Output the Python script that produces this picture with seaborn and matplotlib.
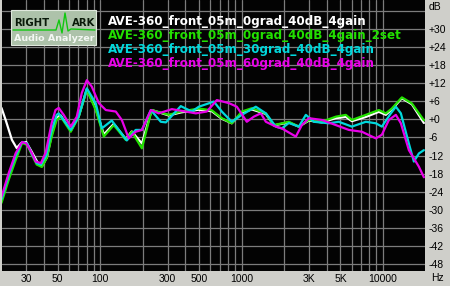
import matplotlib
matplotlib.use("Agg")
import matplotlib.pyplot as plt
from matplotlib.patches import Rectangle
from matplotlib.lines import Line2D
from matplotlib.ticker import NullLocator
import numpy as np
import pandas as pd
import seaborn as sns

# ---------------- data ----------------
series_names = [
    "AVE-360_front_05m_0grad_40dB_4gain",
    "AVE-360_front_05m_0grad_40dB_4gain_2set",
    "AVE-360_front_05m_30grad_40dB_4gain",
    "AVE-360_front_05m_60grad_40dB_4gain",
]
series_colors = ["#ffffff", "#22e000", "#00d8dc", "#e800e8"]

white_freq = [20, 21.4, 23.7, 25.6, 27.6, 29.9, 32.8, 36.7, 39, 42, 45.3, 49.1, 52.5, 61.8, 70.4,
              80.3, 92.9, 105.9, 124.6, 151.5, 167, 197, 231, 305, 371, 498, 615, 724, 852, 1003,
              1181, 1484, 1690, 2158, 2540, 2990, 3695, 4643, 5464, 6025, 7569, 9355, 10485,
              11560, 13610, 16020, 19480]
white_db = [3.8, -0.2, -6.8, -9.5, -7.8, -7.5, -10.8, -15, -15.3, -12.5, -5, 0.5, 1.3, -3.8, 1,
            10, 3.5, -5, -1.5, -6.5, -4, -8, 3.1, 1.3, 2.3, 3.2, 2.7, 0.2, -1.3, 2.2,
            3.3, 1.8, -2, -1, -2.4, -0.4, -1, 0.4, 0.8, -0.6, 0.8, 2.5, 1.5,
            3.3, 7, 5, -1.2]

green_freq = [20, 22.5, 25.2, 28, 30.4, 32.8, 35.5, 38.6, 41.8, 45.3, 49.1, 52.5, 61.8, 70.4,
              80.3, 92.9, 105.9, 124.6, 151.5, 167, 197, 231, 305, 371, 498, 615, 724, 852, 1003,
              1181, 1484, 1690, 2158, 2540, 2990, 3695, 4643, 5464, 6025, 7569, 9355, 10485,
              11560, 13610, 16020, 19480]
green_db = [-27.7, -20, -13.5, -7.8, -8.5, -11.8, -15, -15.8, -12.8, -5.8, -0.2, 0.9, -4.1, 0.9,
            9.8, 3.1, -5.7, -1.9, -6.8, -4.1, -9.6, 3.1, 1.5, 2.6, 3.6, 3, 0.4, -1.3, 2.6,
            3.7, 2, -1.9, -0.8, -2.4, -0.2, -0.8, 0.9, 1.5, -0.2, 1.5, 3.1, 2,
            3.6, 7.3, 5.3, -0.3]

cyan_freq = [20, 22.5, 25.2, 28, 30.4, 32.8, 35.5, 38, 41.5, 45.3, 49.1, 50.8, 61.8, 70.4,
             80.3, 92.9, 102.5, 120.6, 154, 178, 197, 228, 268, 291, 371, 444, 498, 636, 724,
             852, 1003, 1260, 1484, 1746, 1926, 2158, 2540, 2847, 3243, 4141, 4875, 6025,
             7569, 8910, 9822, 11375, 12340, 13390, 15250, 16550, 17960, 19480]
cyan_db = [-26.5, -18.5, -12, -7.5, -8, -11.5, -14.5, -15, -12, -3.5, 1.5, 2, -3.5, 1,
           10.3, 5.3, -3, -0.4, -7, -3.5, -3.5, 3.1, -0.8, -1, 4.4, 2.6, 4.2, 5.9, 2.6,
           -0.8, 1.5, 4.2, 2, -2.4, -3, -1.2, -2.4, 1.5, -0.8, -1.3, -0.8, -2.4,
           -0.8, -1.3, -2.4, 2, 4.2, 2, -8, -14, -11.3, -10.2]

magenta_freq = [20, 22.5, 25.2, 28, 30, 32.8, 34.9, 38, 41.1, 45.3, 48.2, 50.8, 55.1, 61.8, 68.2,
                74, 80.3, 87, 97.6, 109.4, 128.7, 142, 159, 178, 197, 228, 259, 321, 474, 567,
                668, 812, 925, 1088, 1220, 1368, 1484, 1746, 1926, 2419, 2667, 2990, 3695,
                4643, 5739, 7092, 8910, 9822, 11010, 12340, 13390, 15250, 17960, 19480]
magenta_db = [-25.7, -17.8, -11.2, -7.5, -8, -11.2, -14, -14.5, -11, -1.2, 3.1, 3.8, 1.5, -2.4, 0.9,
              8.8, 13, 10.9, 5.4, 3.1, 2.6, -0.2, -6.3, -4.1, -3.5, 3.1, 2, 3.4, 2, 2.6,
              6.4, 5.4, 4.2, -0.8, 0.9, 2, -0.8, -2.4, -3, -5.7, -1.9, 0.4, -0.2,
              -1.9, -3.5, -4.1, -6.3, -5.1, -0.2, 1.5, -1.3, -10.2, -15.7, -19.2]

x_grid = [30, 40, 50, 60, 70, 80, 90, 100, 200, 300, 400, 500, 600, 700, 800, 900,
          1000, 2000, 3000, 4000, 5000, 6000, 7000, 8000, 9000, 10000]
x_tick_text = {30: "30", 50: "50", 100: "100", 300: "300", 500: "500", 1000: "1000",
               3000: "3K", 5000: "5K", 10000: "10000"}
y_grid = [-48, -42, -36, -30, -24, -18, -12, -6, 0, 6, 12, 18, 24, 30, 36]
y_tick_text = ["-48", "-42", "-36", "-30", "-24", "-18", "-12", "-6", "+0", "+6", "+12",
               "+18", "+24", "+30", ""]

# ---------------- build table ----------------
frames = []
for name, f, d in zip(series_names,
                      [white_freq, green_freq, cyan_freq, magenta_freq],
                      [white_db, green_db, cyan_db, magenta_db]):
    frames.append(pd.DataFrame({"freq": f, "db": d, "series": name}))
df = pd.concat(frames, ignore_index=True)

sns.set_theme(style="dark")
plt.rcParams["font.family"] = ["Liberation Sans", "DejaVu Sans"]

W, H = 450, 286
fig = plt.figure(figsize=(W / 100, H / 100), dpi=100, facecolor="#cfcfca")
ax = fig.add_axes([1.5 / W, 15 / H, 424 / W, 271 / H])
ax.set_facecolor("#030303")
ax.set_xscale("log")

sns.lineplot(data=df, x="freq", y="db", hue="series", hue_order=series_names,
             palette=dict(zip(series_names, series_colors)), linewidth=1.6,
             estimator=None, sort=False, ax=ax, legend=True)

ax.set_xlim(20, 20000)
ax.set_ylim(-50.3, 39.6)
ax.set_xlabel("")
ax.set_ylabel("")

ax.set_xticks(x_grid)
ax.set_xticklabels([x_tick_text.get(v, "") for v in x_grid])
ax.xaxis.set_minor_locator(NullLocator())
ax.set_yticks(y_grid)
ax.set_yticklabels(y_tick_text)
ax.yaxis.tick_right()
ax.tick_params(axis="both", length=0, labelsize=7.5, labelcolor="#000000")
ax.tick_params(axis="x", pad=2)
ax.tick_params(axis="y", pad=2)
ax.grid(True, which="major", color="#7c7c7c", linewidth=0.9)
for s in ax.spines.values():
    s.set_visible(False)

handles, labels = ax.get_legend_handles_labels()
leg = ax.legend(handles, labels, loc="upper left", bbox_to_anchor=(100 / 424, 1 - 9 / 271),
                frameon=False, handlelength=0, handletextpad=0, borderpad=0,
                labelspacing=0.08, prop={"family": "DejaVu Sans", "weight": "bold", "size": 8.6})
for txt, col in zip(leg.get_texts(), series_colors):
    txt.set_color(col)
for h in leg.legend_handles:
    h.set_visible(False)

# unit labels
fig.text(429 / W, 1 - 7 / H, "dB", fontsize=7.5, va="center", ha="left", color="black")
fig.text(431 / W, 1 - 278 / H, "Hz", fontsize=7.5, va="center", ha="left", color="black")

# logo
def P(x, y):
    return (x / W, 1 - y / H)

fig.add_artist(Rectangle(P(11, 45), 85 / W, 35 / H, facecolor="#adc2aa",
                         edgecolor="#dfe8dd", linewidth=0.8, transform=fig.transFigure))
fig.text(*P(14, 23), "RIGHT", fontsize=7.3, fontweight="bold", color="#0a1a0a", va="center",
         family="DejaVu Sans")
fig.text(*P(72, 23), "ARK", fontsize=7.3, fontweight="bold", color="#0a1a0a", va="center",
         family="DejaVu Sans")
wx = [13, 56, 59, 62, 65, 68, 71, 95]
wy = [30, 30, 20, 33, 13, 31, 29, 30]
fig.add_artist(Line2D([x / W for x in wx], [1 - y / H for y in wy], color="#10c810",
                      linewidth=1.0, transform=fig.transFigure))
fig.text(*P(14, 38), "Audio Analyzer", fontsize=6.8, fontweight="bold", color="#f4f8f4",
         va="center", family="DejaVu Sans")

fig.savefig("out.png", dpi=100, facecolor=fig.get_facecolor())
